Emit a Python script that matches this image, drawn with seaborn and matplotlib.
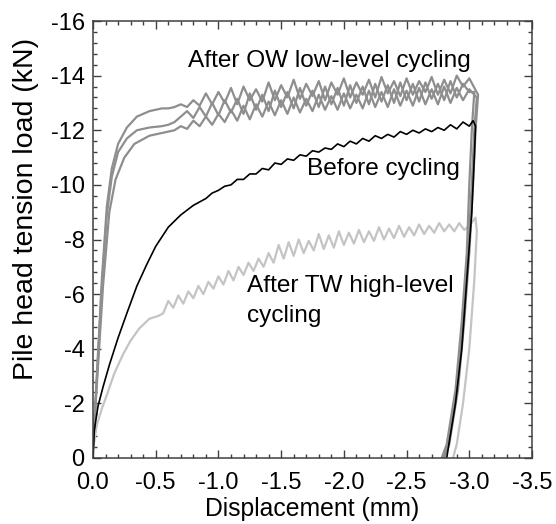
import numpy as np
import pandas as pd
import matplotlib
matplotlib.use("Agg")
import matplotlib.pyplot as plt
from matplotlib.ticker import MultipleLocator, FormatStrFormatter
import seaborn as sns

# ---------------- data (magnitudes; plotted as negative values) ----
# shared zigzag vertex positions for the OW curves (mm)
zig_x = [0.60, 0.65, 0.70, 0.75, 0.80, 0.85, 0.90, 0.95, 1.00, 1.05,
         1.10, 1.15, 1.20, 1.25, 1.30, 1.35, 1.40, 1.45, 1.50, 1.55,
         1.60, 1.65, 1.70, 1.75, 1.80, 1.85, 1.90, 1.95, 2.00, 2.05,
         2.10, 2.15, 2.20, 2.25, 2.30, 2.35, 2.40, 2.45, 2.50, 2.55,
         2.60, 2.65, 2.70, 2.75, 2.80, 2.85, 2.90, 2.95, 3.00]

# After OW low-level cycling: three tests
owA_start_x = [0.0, 0.03, 0.07, 0.11, 0.15, 0.20, 0.27, 0.35, 0.45, 0.55]
owA_start_y = [0.3, 3.0, 6.5, 9.2, 10.6, 11.5, 12.1, 12.5, 12.7, 12.8]
owA_zig_y = [12.8, 12.85, 12.95, 12.85, 13.1, 12.9, 13.35, 12.95, 13.4, 13.0,
             13.55, 12.95, 13.6, 13.1, 13.5, 13.05, 13.75, 13.1, 13.65, 13.2,
             13.85, 13.15, 13.7, 13.25, 13.8, 13.1, 13.75, 13.3, 13.9, 13.2,
             13.75, 13.3, 13.85, 13.2, 13.95, 13.35, 13.8, 13.25, 13.9, 13.3,
             13.8, 13.4, 13.95, 13.3, 13.85, 13.35, 14.0, 13.6, 13.9]
owA_end_x = [3.07, 3.05, 3.03, 3.00, 2.96, 2.91, 2.84, 2.80]
owA_end_y = [13.3, 12.0, 10.0, 7.5, 5.0, 2.5, 0.5, 0.0]

owB_start_x = [0.0, 0.03, 0.07, 0.11, 0.15, 0.20, 0.27, 0.35, 0.45, 0.55]
owB_start_y = [0.3, 2.8, 6.2, 8.9, 10.3, 11.2, 11.7, 12.0, 12.1, 12.15]
owB_zig_y = [12.2, 12.3, 12.5, 12.7, 12.45, 12.85, 12.5, 13.0, 12.55, 13.1,
             12.65, 13.15, 12.6, 13.35, 12.75, 13.3, 12.7, 13.45, 12.85, 13.4,
             12.8, 13.55, 12.9, 13.45, 12.85, 13.6, 12.95, 13.55, 12.9, 13.65,
             13.0, 13.6, 12.95, 13.7, 13.05, 13.65, 13.0, 13.75, 13.1, 13.7,
             13.05, 13.75, 13.15, 13.7, 13.1, 13.8, 13.2, 13.7, 13.4]
owB_end_x = [3.04, 3.02, 3.00, 2.98, 2.94, 2.89, 2.82, 2.78]
owB_end_y = [13.4, 12.0, 10.0, 7.5, 5.0, 2.5, 0.5, 0.0]

owC_start_x = [0.0, 0.035, 0.08, 0.13, 0.18, 0.25, 0.33, 0.45, 0.55]
owC_start_y = [0.5, 3.0, 6.3, 9.0, 10.2, 11.0, 11.5, 11.8, 11.9]
owC_zig_y = [11.95, 12.0, 12.15, 12.05, 12.35, 12.15, 12.5, 12.2, 12.6, 12.3,
             12.75, 12.35, 12.9, 12.4, 12.95, 12.5, 13.05, 12.55, 13.1, 12.6,
             13.2, 12.65, 13.15, 12.7, 13.3, 12.75, 13.25, 12.75, 13.35, 12.8,
             13.3, 12.8, 13.45, 12.85, 13.4, 12.85, 13.5, 12.9, 13.45, 12.9,
             13.55, 12.95, 13.5, 12.95, 13.6, 13.0, 13.55, 13.1, 13.5]
owC_end_x = [3.06, 3.04, 3.02, 2.99, 2.95, 2.90, 2.83, 2.79]
owC_end_y = [13.2, 12.0, 10.0, 7.5, 5.0, 2.5, 0.5, 0.0]

# Before cycling
bef_x = [0.0, 0.01, 0.04, 0.08, 0.13, 0.20, 0.27, 0.35, 0.43, 0.50,
         0.60, 0.70, 0.80, 0.90, 0.95, 1.00, 1.05, 1.10, 1.15, 1.20,
         1.25, 1.30, 1.35, 1.40, 1.45, 1.50, 1.55, 1.60, 1.65, 1.70,
         1.75, 1.80, 1.85, 1.90, 1.95, 2.00, 2.05, 2.10, 2.15, 2.20,
         2.25, 2.30, 2.35, 2.40, 2.45, 2.50, 2.55, 2.60, 2.65, 2.70,
         2.75, 2.80, 2.85, 2.90, 2.95, 3.00, 3.03, 3.05,
         3.04, 3.02, 2.98, 2.94, 2.89, 2.82]
bef_y = [0.0, 1.0, 1.9, 2.6, 3.4, 4.4, 5.3, 6.3, 7.1, 7.75,
         8.45, 8.9, 9.25, 9.5, 9.7, 9.8, 9.95, 10.0, 10.2, 10.2,
         10.4, 10.4, 10.6, 10.55, 10.8, 10.75, 10.95, 10.9, 11.1, 11.05,
         11.25, 11.2, 11.35, 11.3, 11.5, 11.4, 11.6, 11.5, 11.7, 11.6,
         11.8, 11.7, 11.85, 11.75, 11.95, 11.85, 12.0, 11.9, 12.05, 11.95,
         12.1, 12.0, 12.2, 12.05, 12.3, 12.15, 12.35, 12.15,
         11.0, 9.0, 6.5, 4.0, 2.0, 0.0]

# After TW high-level cycling
tw_start_x = [0.0, 0.03, 0.07, 0.11, 0.17, 0.24, 0.30, 0.37, 0.45, 0.52]
tw_start_y = [0.3, 1.2, 1.8, 2.3, 3.1, 3.8, 4.3, 4.75, 5.1, 5.2]
tw_zig_x = [0.56, 0.60, 0.64, 0.68, 0.72, 0.76, 0.80, 0.84, 0.88, 0.92,
            0.96, 1.00, 1.04, 1.08, 1.12, 1.16, 1.20, 1.24, 1.28, 1.32,
            1.36, 1.40, 1.44, 1.48, 1.52, 1.56, 1.60, 1.64, 1.68, 1.72,
            1.76, 1.80, 1.84, 1.88, 1.92, 1.96, 2.00, 2.04, 2.08, 2.12,
            2.16, 2.20, 2.24, 2.28, 2.32, 2.36, 2.40, 2.44, 2.48, 2.52,
            2.56, 2.60, 2.64, 2.68, 2.72, 2.76, 2.80, 2.84, 2.88, 2.92,
            2.96, 3.00]
tw_zig_y = [5.3, 5.75, 5.5, 5.95, 5.65, 6.1, 5.85, 6.3, 6.0, 6.45,
            6.2, 6.65, 6.35, 6.85, 6.5, 7.0, 6.7, 7.15, 6.85, 7.3,
            7.0, 7.5, 7.15, 7.8, 7.3, 7.9, 7.4, 8.0, 7.5, 7.95,
            7.6, 8.2, 7.65, 8.15, 7.7, 8.3, 7.8, 8.25, 7.85, 8.35,
            7.9, 8.3, 7.95, 8.45, 8.0, 8.4, 8.05, 8.5, 8.1, 8.45,
            8.15, 8.55, 8.2, 8.5, 8.25, 8.6, 8.3, 8.55, 8.3, 8.6,
            8.35, 8.5]
tw_end_x = [3.05, 3.06, 3.04, 3.00, 2.95, 2.90, 2.87]
tw_end_y = [8.8, 8.3, 6.5, 4.0, 2.0, 0.5, 0.0]

x_ticks = [0.0, -0.5, -1.0, -1.5, -2.0, -2.5, -3.0, -3.5]
y_ticks = [0, -2, -4, -6, -8, -10, -12, -14, -16]

# ---------------- build frames ----------------
def curve(name, xs, ys):
    return pd.DataFrame({"disp": -np.asarray(xs, float),
                         "load": -np.asarray(ys, float),
                         "curve": name})

curves = {
    "TW": curve("TW", tw_start_x + tw_zig_x + tw_end_x, tw_start_y + tw_zig_y + tw_end_y),
    "OWC": curve("OWC", owC_start_x + zig_x + owC_end_x, owC_start_y + owC_zig_y + owC_end_y),
    "OWB": curve("OWB", owB_start_x + zig_x + owB_end_x, owB_start_y + owB_zig_y + owB_end_y),
    "OWA": curve("OWA", owA_start_x + zig_x + owA_end_x, owA_start_y + owA_zig_y + owA_end_y),
    "BEF": curve("BEF", bef_x, bef_y),
}
styles = {"TW": ("#c4c4c4", 1.6), "OWC": ("#8e8e8e", 1.6), "OWB": ("#8e8e8e", 1.6),
          "OWA": ("#8e8e8e", 1.6), "BEF": ("#000000", 1.2)}

# ---------------- plot ----------------
sns.set_theme(style="ticks")
plt.rcParams["font.family"] = ["Liberation Sans", "DejaVu Sans"]
plt.rcParams["axes.unicode_minus"] = False
plt.rcParams["text.color"] = "black"
plt.rcParams["axes.labelcolor"] = "black"
plt.rcParams["xtick.labelcolor"] = "black"
plt.rcParams["ytick.labelcolor"] = "black"

fig, ax = plt.subplots(figsize=(5.56, 5.24), dpi=100)
fig.subplots_adjust(left=93 / 556, right=532 / 556, top=1 - 21 / 524, bottom=1 - 458 / 524)

for key, df in curves.items():
    c, lw = styles[key]
    sns.lineplot(data=df, x="disp", y="load", sort=False, estimator=None,
                 color=c, lw=lw, ax=ax, legend=False)

ax.set_xlim(0, -3.5)
ax.set_ylim(0, -16)
ax.set_xticks(x_ticks)
ax.set_yticks(y_ticks)
ax.xaxis.set_major_formatter(FormatStrFormatter("%.1f"))
ax.yaxis.set_major_formatter(FormatStrFormatter("%d"))
ax.xaxis.set_minor_locator(MultipleLocator(0.1))
ax.yaxis.set_minor_locator(MultipleLocator(0.4))
ax.tick_params(which="both", direction="in", top=True, right=True,
               color="#404040", width=1.0, labelcolor="black")
ax.tick_params(which="major", length=6, labelsize=17)
ax.tick_params(axis="y", which="major", pad=6)
ax.tick_params(axis="x", which="major", pad=10)
ax.tick_params(which="minor", length=3)
for s in ax.spines.values():
    s.set_color("#404040")
    s.set_linewidth(1.1)

ax.set_xlabel("Displacement (mm)", fontsize=17.8, labelpad=2, color="black")
ax.set_ylabel("Pile head tension load (kN)", fontsize=20.5, color="black")
ax.yaxis.set_label_coords(-0.123, 0.57)

ax.text(-0.757, -14.32, "After OW low-level cycling", fontsize=17.6,
        ha="left", va="baseline", color="black")
ax.text(-1.703, -10.36, "Before cycling", fontsize=17.6, ha="left",
        va="baseline", color="black")
ax.text(-1.225, -6.09, "After TW high-level", fontsize=17.6, ha="left",
        va="baseline", color="black")
ax.text(-1.225, -4.99, "cycling", fontsize=17.6, ha="left", va="baseline",
        color="black")

fig.savefig("out.png", dpi=100)
